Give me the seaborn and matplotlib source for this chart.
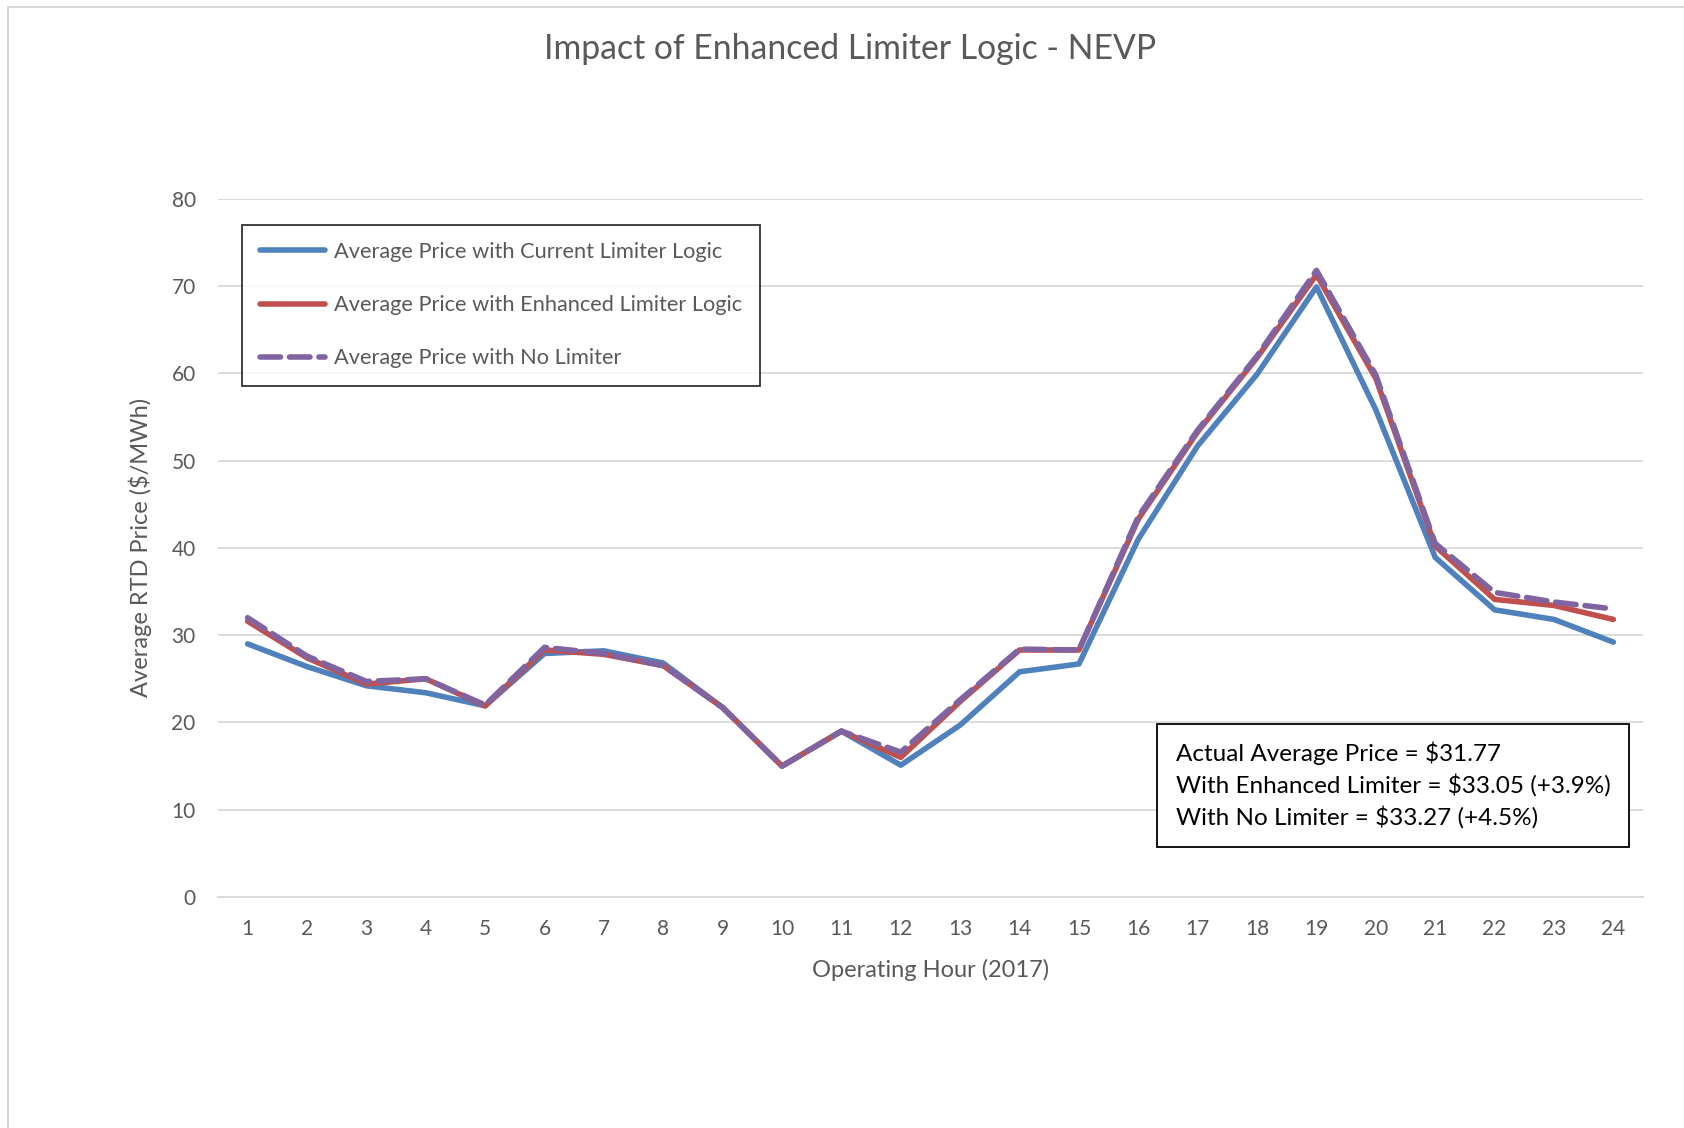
import pandas as pd
import numpy as np
import matplotlib.pyplot as plt
import seaborn as sns
from matplotlib.patches import Rectangle

# ------------------------------------------------------------------
# data
# ------------------------------------------------------------------
hours = list(range(1, 25))
current_limiter = [29.0, 26.4, 24.2, 23.4, 21.9, 27.9, 28.2, 26.8, 21.7, 15.0, 19.0, 15.1,
                   19.7, 25.8, 26.7, 41.0, 51.7, 59.9, 69.9, 55.8, 38.9, 32.9, 31.8, 29.2]
enhanced_limiter = [31.6, 27.4, 24.4, 25.0, 21.9, 28.3, 27.8, 26.5, 21.7, 15.0, 19.0, 16.0,
                    22.4, 28.3, 28.3, 43.3, 53.3, 61.8, 71.3, 59.4, 40.2, 34.1, 33.4, 31.8]
no_limiter = [32.0, 27.6, 24.7, 25.0, 22.0, 28.6, 27.9, 26.5, 21.7, 15.0, 19.0, 16.6,
              22.6, 28.4, 28.3, 43.6, 53.5, 62.0, 71.8, 59.8, 40.5, 34.9, 33.8, 33.0]
series_names = ["Average Price with Current Limiter Logic",
                "Average Price with Enhanced Limiter Logic",
                "Average Price with No Limiter"]
summary_lines = ["Actual Average Price = $31.77",
                 "With Enhanced Limiter = $33.05 (+3.9%)",
                 "With No Limiter = $33.27 (+4.5%)"]

df = pd.DataFrame({"hour": hours * 3,
                   "price": current_limiter + enhanced_limiter + no_limiter,
                   "series": np.repeat(series_names, len(hours))})

# ------------------------------------------------------------------
# styling
# ------------------------------------------------------------------
sns.set_style("white")
plt.rcParams['font.family'] = ['Lato', 'DejaVu Sans']
grey = "#595959"
colors = {series_names[0]: "#4F81BD", series_names[1]: "#C0504D", series_names[2]: "#8064A2"}

fig = plt.figure(figsize=(16.84, 11.28), dpi=100)
ax = fig.add_axes([0.1294, 0.2048, 0.8463, 0.619])

# outer chart frame (thin grey, like the Excel chart area)
fig.patches.append(Rectangle((8 / 1684, -0.01), 1.2, 1 - 7 / 1128 + 0.01, transform=fig.transFigure,
                             fill=False, edgecolor="#D0D0D0", lw=1.2))

for name in series_names:
    sub = df[df["series"] == name]
    dashed = name == series_names[2]
    sns.lineplot(data=sub, x="hour", y="price", ax=ax, color=colors[name], lw=4.0,
                 label=name, solid_capstyle="round", solid_joinstyle="round",
                 dash_capstyle="round", dash_joinstyle="round",
                 linestyle="--" if dashed else "-",
                 dashes=(2.0, 1.8) if dashed else None)

ax.set_xlim(0.5, 24.5)
ax.set_ylim(0, 80)
ax.set_yticks(range(0, 81, 10))
ax.set_xticks(hours)
ax.grid(axis="y", color="#D9D9D9", lw=1.3)
ax.set_axisbelow(True)
for s in ["top", "right", "left"]:
    ax.spines[s].set_visible(False)
ax.spines["bottom"].set_color("#D9D9D9")
ax.spines["bottom"].set_linewidth(1.3)
ax.tick_params(axis="x", length=0, labelsize=15, labelcolor=grey, pad=16)
ax.tick_params(axis="y", length=0, labelsize=15, labelcolor=grey, pad=16)

ax.set_xlabel("Operating Hour (2017)", fontsize=17, color=grey, labelpad=14)
ax.set_ylabel("Average RTD Price ($/MWh)", fontsize=17, color=grey, labelpad=14)

fig.text(0.5045, 0.957, "Impact of Enhanced Limiter Logic - NEVP", ha="center", va="center",
         fontsize=24.3, color=grey)

leg = ax.legend(loc="upper left", bbox_to_anchor=(0.017, 0.963), fontsize=15.7, frameon=True,
                fancybox=False, edgecolor="black", handlelength=3.0, labelspacing=1.52,
                borderpad=0.8, handletextpad=0.42, borderaxespad=0)
leg.get_frame().set_linewidth(1.3)
for t in leg.get_texts():
    t.set_color(grey)

ax.text(0.672, 0.222, "\n".join(summary_lines), transform=ax.transAxes, fontsize=17.5,
        color="black", va="top", ha="left", linespacing=1.45,
        bbox=dict(boxstyle="square,pad=0.75", facecolor="white", edgecolor="black", lw=1.3))

plt.savefig("out.png", dpi=100)
